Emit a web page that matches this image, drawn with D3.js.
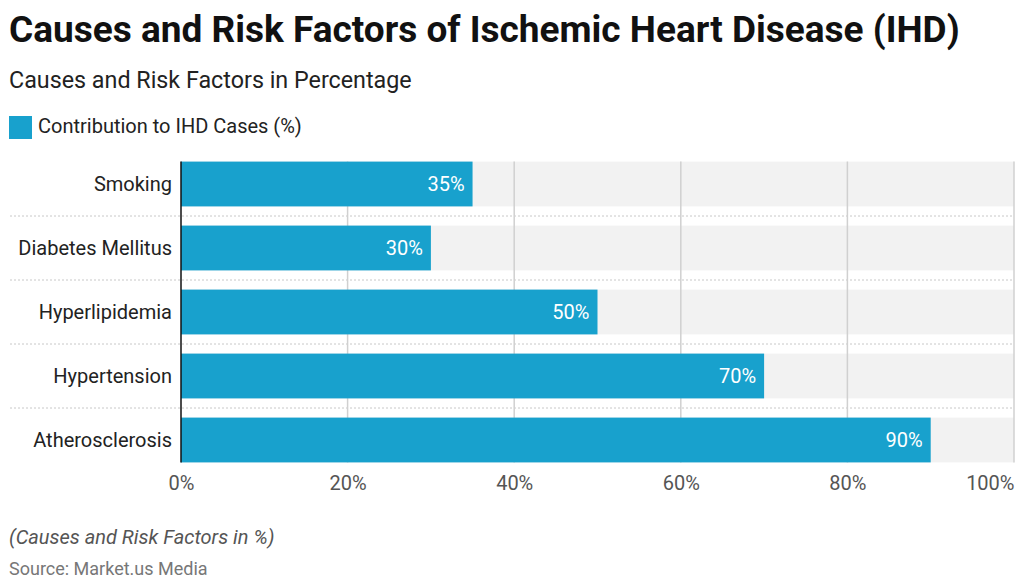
<!DOCTYPE html>
<html><head><meta charset="utf-8">
<script src="https://cdn.jsdelivr.net/npm/d3@7"></script>
<style>body{margin:0;background:#fff}svg{font-family:Roboto,sans-serif}</style>
</head><body><svg id="c" width="1024" height="588"></svg>
<script>
const categories = ["Smoking","Diabetes Mellitus","Hyperlipidemia","Hypertension","Atherosclerosis"];
const values = [35,30,50,70,90];
const tickValues = [0,20,40,60,80,100];
const seriesName = "Contribution to IHD Cases (%)";

const svg = d3.select("#c");
const color = "#18a1cd";
const x = d3.scaleLinear().domain([0,100]).range([181,1014]);
const y = d3.scaleBand().domain(categories).range([152,472]).paddingInner(0.3).paddingOuter(0.15);

svg.append("text").attr("x",9).attr("y",42).attr("font-size",37).attr("font-weight",700).attr("fill","#111")
  .text("Causes and Risk Factors of Ischemic Heart Disease (IHD)");
svg.append("text").attr("x",9).attr("y",88).attr("font-size",23.3).attr("fill","#222")
  .text("Causes and Risk Factors in Percentage");
svg.append("rect").attr("x",9).attr("y",116).attr("width",23).attr("height",23).attr("fill",color);
svg.append("text").attr("x",38).attr("y",133).attr("font-size",20).attr("fill","#222").text(seriesName);

svg.selectAll(".band").data(categories).join("rect")
  .attr("x",x(0)).attr("y",d=>y(d)).attr("width",x(100)-x(0)).attr("height",y.bandwidth()).attr("fill","#f2f2f2");
const step = y.step();
svg.selectAll(".sep").data(categories.slice(0,-1)).join("line")
  .attr("x1",10).attr("x2",x(100))
  .attr("y1",d=>y(d)+y.bandwidth()+step*0.15).attr("y2",d=>y(d)+y.bandwidth()+step*0.15)
  .attr("stroke","#c8c8c8").attr("stroke-dasharray","2,2");
svg.selectAll(".grid").data(tickValues.slice(1)).join("line")
  .attr("x1",d=>x(d)).attr("x2",d=>x(d)).attr("y1",y(categories[0])).attr("y2",y(categories[4])+y.bandwidth())
  .attr("stroke","#d0d0d0").attr("stroke-width",1.5);
svg.selectAll(".bar").data(values).join("rect")
  .attr("x",x(0)).attr("y",(d,i)=>y(categories[i])).attr("width",d=>x(d)-x(0)).attr("height",y.bandwidth())
  .attr("fill",color);
svg.selectAll(".vl").data(values).join("text")
  .attr("x",d=>x(d)-8).attr("y",(d,i)=>y(categories[i])+y.bandwidth()/2+7)
  .attr("text-anchor","end").attr("font-size",20).attr("fill","#fff").text(d=>d+"%");
svg.append("line").attr("x1",x(0)).attr("x2",x(0)).attr("y1",y(categories[0])).attr("y2",y(categories[4])+y.bandwidth())
  .attr("stroke","#111").attr("stroke-width",1.5);
svg.selectAll(".cl").data(categories).join("text")
  .attr("x",172).attr("y",d=>y(d)+y.bandwidth()/2+7).attr("text-anchor","end")
  .attr("font-size",20).attr("fill","#222").text(d=>d);
const xa = svg.append("g").attr("transform","translate(0,476)")
  .call(d3.axisBottom(x).tickValues(tickValues).tickFormat(d=>d+"%").tickSize(0).tickPadding(0));
xa.select(".domain").remove();
xa.selectAll("text").attr("font-size",20).attr("fill","#555").attr("font-family","Roboto,sans-serif").attr("dy","0.71em")
  .attr("text-anchor",d=>d===100?"end":"middle");

svg.append("text").attr("x",9).attr("y",544).attr("font-size",20).attr("font-style","italic").attr("fill","#555")
  .text("(Causes and Risk Factors in %)");
svg.append("text").attr("x",9).attr("y",575).attr("font-size",18).attr("fill","#777").text("Source: Market.us Media");
</script></body></html>
